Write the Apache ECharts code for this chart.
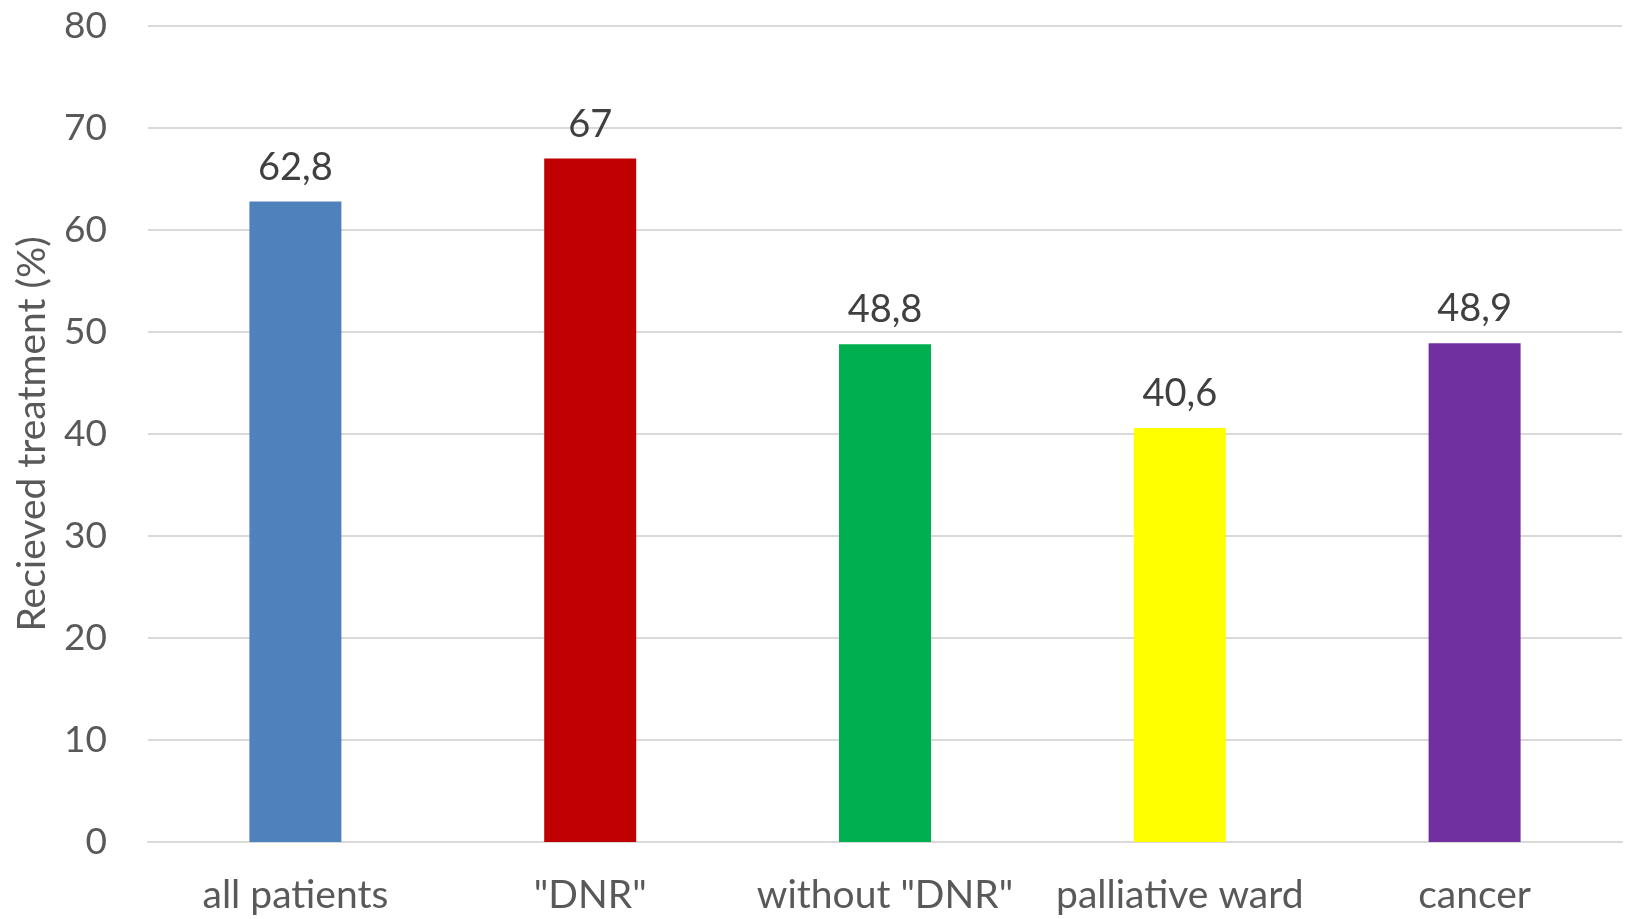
<!DOCTYPE html>
<html>
<head>
<meta charset="utf-8">
<script src="https://cdn.jsdelivr.net/npm/echarts@6/dist/echarts.min.js"></script>
<style>
  html, body { margin: 0; padding: 0; background: #ffffff; }
  #chart { width: 1625px; height: 919px; }
</style>
</head>
<body>
<div id="chart"></div>
<script>
// Share of patients who received treatment, by group
const categories = ['all patients', '"DNR"', 'without "DNR"', 'palliative ward', 'cancer'];
const values = [62.8, 67, 48.8, 40.6, 48.9];
const barColors = ['#4F81BD', '#C00000', '#00B050', '#FFFF00', '#7030A0'];
const yTicks = { min: 0, max: 80, interval: 10 };
const yTitle = 'Recieved treatment (%)';

const FONT = 'Lato, "Open Sans", sans-serif';

const chart = echarts.init(document.getElementById('chart'));
chart.setOption({
  animation: false,
  grid: { left: 148, right: 3, top: 26, bottom: 77, containLabel: false, outerBoundsMode: 'none' },
  xAxis: {
    type: 'category',
    data: categories,
    axisTick: { show: false },
    axisLine: { show: true, lineStyle: { color: '#D9D9D9', width: 2 } },
    axisLabel: { color: '#595959', fontFamily: FONT, fontSize: 39, margin: 34, interval: 0 }
  },
  yAxis: {
    type: 'value',
    min: yTicks.min,
    max: yTicks.max,
    interval: yTicks.interval,
    name: yTitle,
    nameLocation: 'middle',
    nameGap: 96,
    nameTextStyle: { color: '#595959', fontFamily: FONT, fontSize: 39 },
    axisLine: { show: false },
    axisTick: { show: false },
    axisLabel: { color: '#595959', fontFamily: FONT, fontSize: 37, margin: 41 },
    splitLine: { lineStyle: { color: '#D9D9D9', width: 2 } }
  },
  series: [{
    type: 'bar',
    data: values.map((v, i) => ({ value: v, itemStyle: { color: barColors[i] } })),
    barWidth: 92,
    label: {
      show: true,
      position: 'top',
      distance: 15,
      color: '#404040',
      fontFamily: FONT,
      fontSize: 38,
      formatter: p => String(p.value).replace('.', ',')
    }
  }]
});
</script>
</body>
</html>
